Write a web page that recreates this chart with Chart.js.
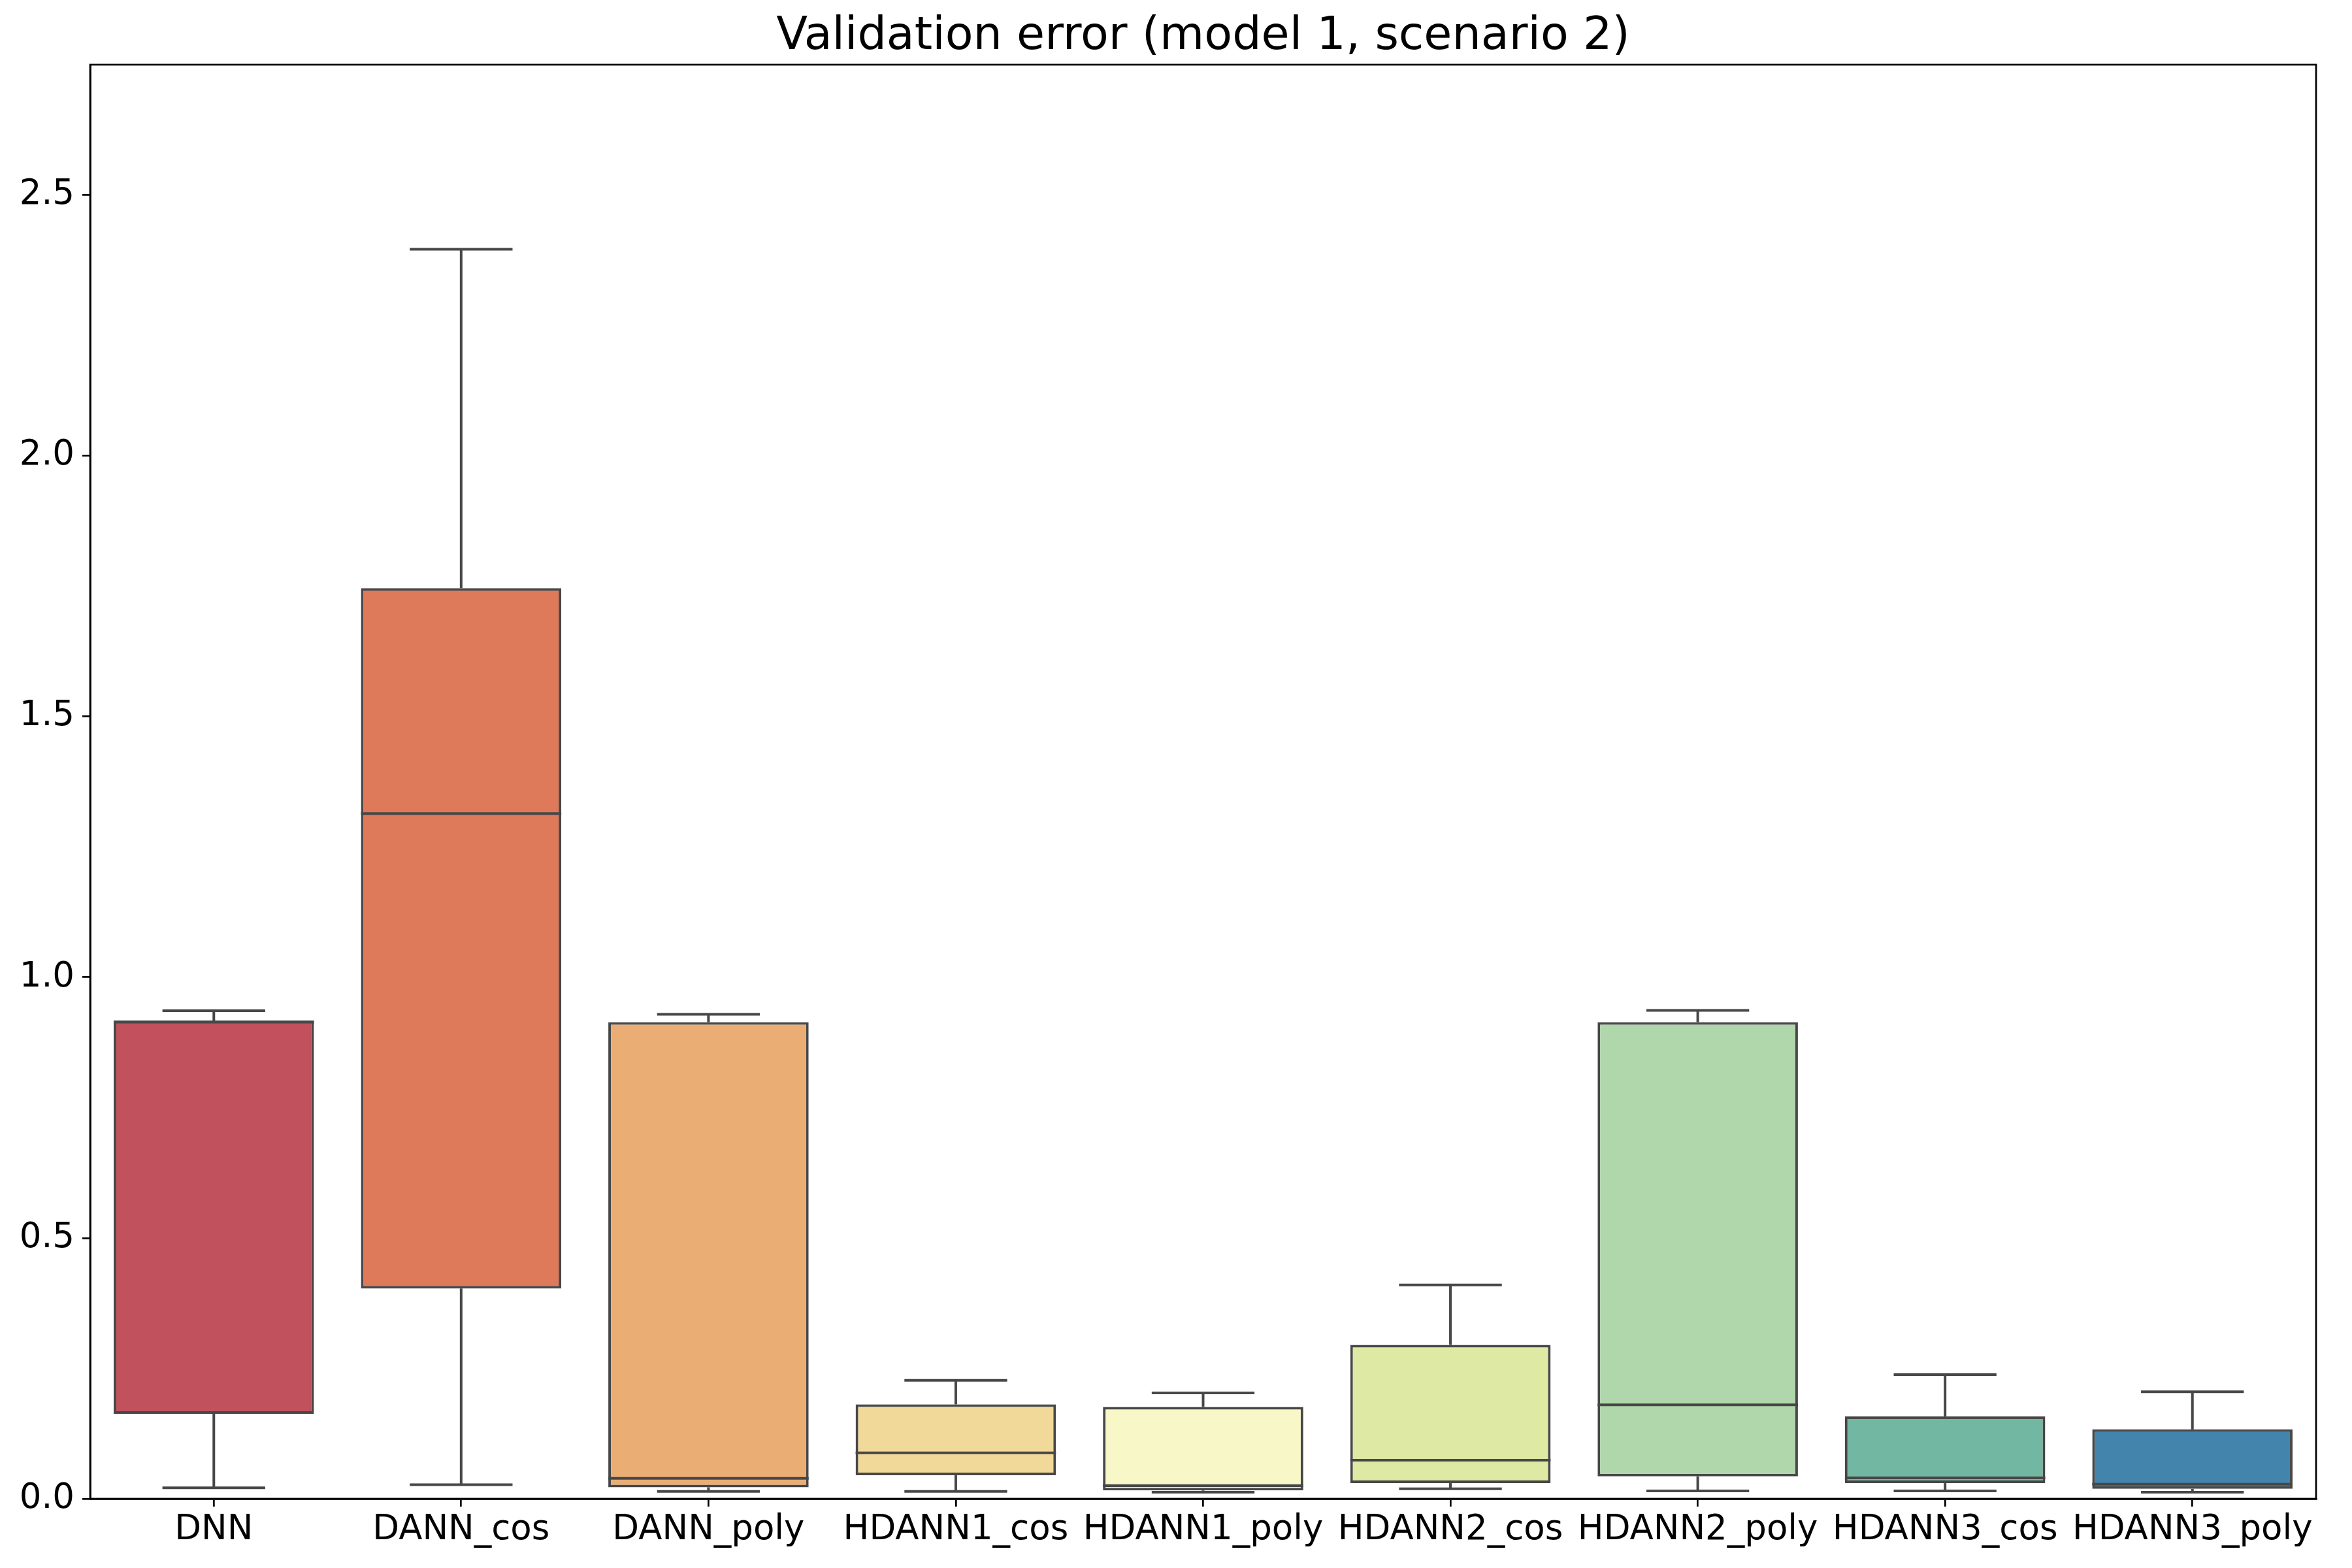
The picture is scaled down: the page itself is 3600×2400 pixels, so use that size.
<!DOCTYPE html>
<html><head><meta charset="utf-8">
<script src="https://cdn.jsdelivr.net/npm/chart.js@4.4.0/dist/chart.umd.min.js"></script>
<style>html,body{margin:0;padding:0;background:#fff}canvas{display:block}</style>
</head><body>
<canvas id="c" width="3600" height="2400" style="width:3600px;height:2400px"></canvas>
<script>
// ---- data ----
const categories = ['DNN','DANN_cos','DANN_poly','HDANN1_cos','HDANN1_poly','HDANN2_cos','HDANN2_poly','HDANN3_cos','HDANN3_poly'];
const whiskerLow  = [0.021, 0.027, 0.014, 0.014, 0.0125, 0.019, 0.015, 0.015, 0.0125];
const q1          = [0.163, 0.403, 0.022, 0.045, 0.016,  0.030, 0.043, 0.030, 0.019];
const median      = [0.914, 1.314, 0.039, 0.088, 0.025,  0.074, 0.180, 0.040, 0.028];
const q3          = [0.917, 1.746, 0.914, 0.181, 0.176,  0.295, 0.914, 0.158, 0.133];
const whiskerHigh = [0.936, 2.396, 0.929, 0.227, 0.203,  0.410, 0.9365, 0.238, 0.205];
const yTicks = [0, 0.5, 1.0, 1.5, 2.0, 2.5];
const titleText = 'Validation error (model 1, scenario 2)';

// ---- style ----
const boxColors = ['#c2515e','#de795a','#eaae75','#f0d999','#f7f7c7','#dee9a4','#b0d6ab','#72b7a1','#4384ac'];
const lineColor = '#474747';
const FONT = 'DejaVu Sans';

const boxPlugin = {
  id: 'boxParts',
  afterLayout(chart) {
    const t = chart.titleBlock;
    if (t) { t.left = chart.chartArea.left; t.right = chart.chartArea.right; }
  },
  afterDatasetsDraw(chart) {
    const {ctx, scales: {x, y}, chartArea} = chart;
    const meta = chart.getDatasetMeta(0);
    ctx.save();
    ctx.strokeStyle = lineColor;
    ctx.lineWidth = 4;
    ctx.lineCap = 'butt';
    const seg = (x1, y1, x2, y2) => { ctx.beginPath(); ctx.moveTo(x1, y1); ctx.lineTo(x2, y2); ctx.stroke(); };
    categories.forEach((c, i) => {
      const bar = meta.data[i];
      const cx = x.getPixelForValue(i);
      const half = bar.width / 2;
      const yLow = y.getPixelForValue(whiskerLow[i]);
      const yQ1 = y.getPixelForValue(q1[i]);
      const yMed = y.getPixelForValue(median[i]);
      const yQ3 = y.getPixelForValue(q3[i]);
      const yHigh = y.getPixelForValue(whiskerHigh[i]);
      seg(cx, yQ1, cx, yLow);
      seg(cx, yQ3, cx, yHigh);
      ctx.lineCap = 'square';
      seg(cx - half / 2, yLow, cx + half / 2, yLow);
      seg(cx - half / 2, yHigh, cx + half / 2, yHigh);
      ctx.lineCap = 'butt';
      seg(cx - half, yMed, cx + half, yMed);
    });
    ctx.strokeStyle = '#000';
    ctx.lineWidth = 2.7;
    ctx.strokeRect(chartArea.left, chartArea.top, chartArea.right - chartArea.left, chartArea.bottom - chartArea.top);
    ctx.restore();
  }
};

new Chart(document.getElementById('c'), {
  type: 'bar',
  data: {
    labels: categories,
    datasets: [{
      data: q1.map((v, i) => [v, q3[i]]),
      backgroundColor: boxColors,
      borderColor: lineColor,
      borderWidth: 4,
      borderSkipped: false,
      barPercentage: 1.0,
      categoryPercentage: 0.81
    }]
  },
  options: {
    responsive: false,
    devicePixelRatio: 1,
    animation: false,
    layout: { padding: { left: 0, right: 55, top: 0, bottom: 0 } },
    plugins: {
      legend: { display: false },
      tooltip: { enabled: false },
      title: {
        display: true,
        text: titleText,
        color: '#000',
        font: { family: FONT, size: 70, weight: 'normal' },
        padding: { top: 15, bottom: 0 }
      }
    },
    scales: {
      x: {
        type: 'category',
        offset: true,
        grid: { display: true, offset: false, drawOnChartArea: false, drawTicks: true, tickLength: 12, color: '#000', lineWidth: 2.7 },
        border: { display: true, color: '#000', width: 2.7 },
        ticks: { color: '#000', font: { family: FONT, size: 53 }, padding: 4, maxRotation: 0, autoSkip: false },
        afterFit(s) { s.height = 106; }
      },
      y: {
        min: 0,
        max: 2.75,
        afterBuildTicks(s) { s.ticks = yTicks.map(v => ({ value: v })); },
        grid: { display: true, drawOnChartArea: false, drawTicks: true, tickLength: 12, color: '#000', lineWidth: 2.7 },
        border: { display: true, color: '#000', width: 2.7 },
        ticks: { color: '#000', font: { family: FONT, size: 53 }, padding: 12, callback: v => Number(v).toFixed(1) },
        afterFit(s) { s.width = 138; }
      }
    }
  },
  plugins: [boxPlugin]
});
</script>
</body></html>
